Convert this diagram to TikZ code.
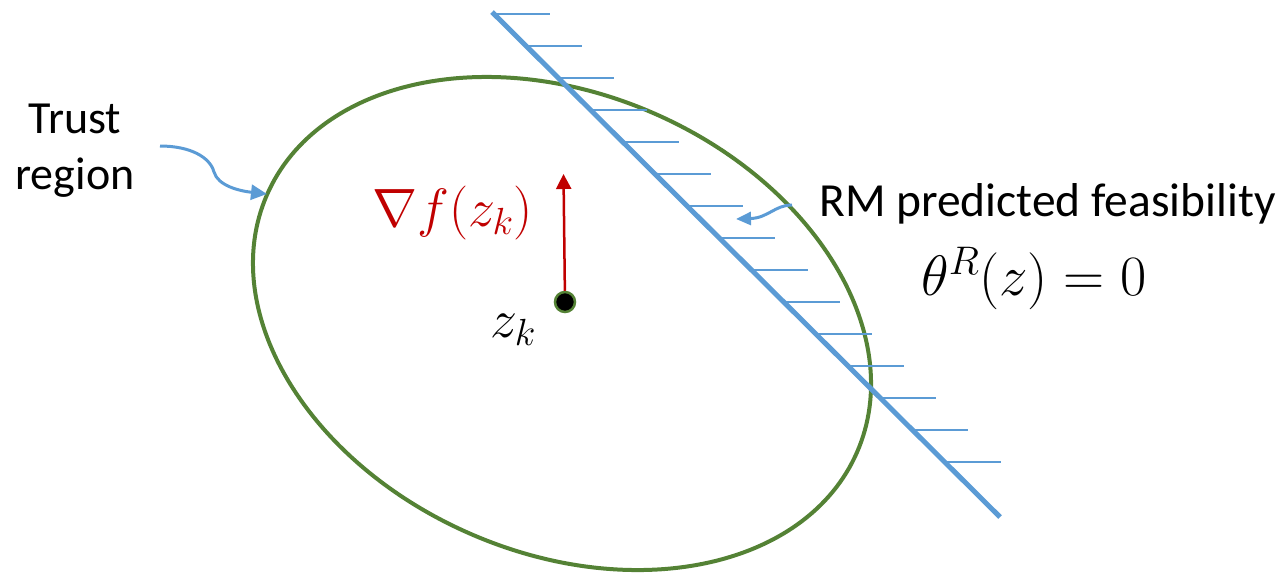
\RequirePackage{fix-cm}
\documentclass[tikz,border=0pt]{standalone}
\usepackage{fontspec}
\setmainfont{Carlito}
\usetikzlibrary{arrows.meta,calc,shapes.geometric}
\definecolor{tgreen}{HTML}{548235}
\definecolor{tblue}{HTML}{5B9BD5}
\definecolor{tred}{HTML}{C00000}
\begin{document}
\begin{tikzpicture}[x=1pt,y=-1pt,
  lbl/.style={font=\fontsize{46}{56}\selectfont, inner sep=0pt, align=center},
  mathlbl/.style={font=\fontsize{54}{62}\selectfont, inner sep=0pt},
  region/.style={draw=tgreen, line width=4pt, ellipse, minimum width=643.8pt, minimum height=458.8pt, inner sep=0pt, outer sep=0pt, rotate=-23.56},
  bound/.style={draw=tblue, line width=5pt},
  hatch/.style={draw=tblue, line width=2pt},
  pointer/.style={draw=tblue, line width=3pt, -{Triangle[length=16pt,width=15pt]}},
  grad/.style={draw=tred, line width=2.5pt, -{Triangle[length=15pt,width=15pt]}},
  iterate/.style={circle, fill=black, draw=tgreen, line width=2.5pt, minimum size=20pt, inner sep=0pt}]
\useasboundingbox (0,0) rectangle (1285,574);
% trust region
\node[region] (tr) at (562,323.5) {};
% constraint boundary with hatching
\coordinate (L1) at (492,12);
\coordinate (L2) at (1000,517);
\draw[bound] (L1) -- (L2);
\foreach \i in {0,...,14} {
  \draw[hatch] ($(L1)!{(2+32*\i)/505}!(L2)$) -- ++(56,0);
}
% iterate and gradient
\node[iterate] (zk) at (565,302) {};
\coordinate (gtip) at (563.5,174);
\draw[grad] (zk) -- (gtip);
% labels
\node[mathlbl, text=tred, anchor=base west] (gradlbl) at (372,226) {$\nabla f(z_k)$};
\node[mathlbl, anchor=base west] (zklbl) at (490,337) {$z_k$};
\node[mathlbl, font=\fontsize{57}{65}\selectfont, anchor=base west] (thetalbl) at (921,295) {$\theta^R(z) = 0$};
\node[lbl, anchor=base] (trustlbl) at (75,189) {Trust\\region};
\node[lbl, font=\fontsize{47.5}{57}\selectfont, anchor=base west] (rmlbl) at (819,216) {RM predicted feasibility};
% pointers
\coordinate (trS) at (160,146);
\coordinate (trE) at (267,194);
\draw[pointer] (trS) .. controls (190,146) and (210,157) .. (214,172) .. controls (218,186) and (240,191) .. (trE);
\coordinate (rmS) at (792,205);
\coordinate (rmE) at (736,219);
\draw[pointer, -{Triangle[length=15pt,width=13pt]}] (rmS) .. controls (775,205) and (768,218) .. (rmE);
\end{tikzpicture}
\end{document}
